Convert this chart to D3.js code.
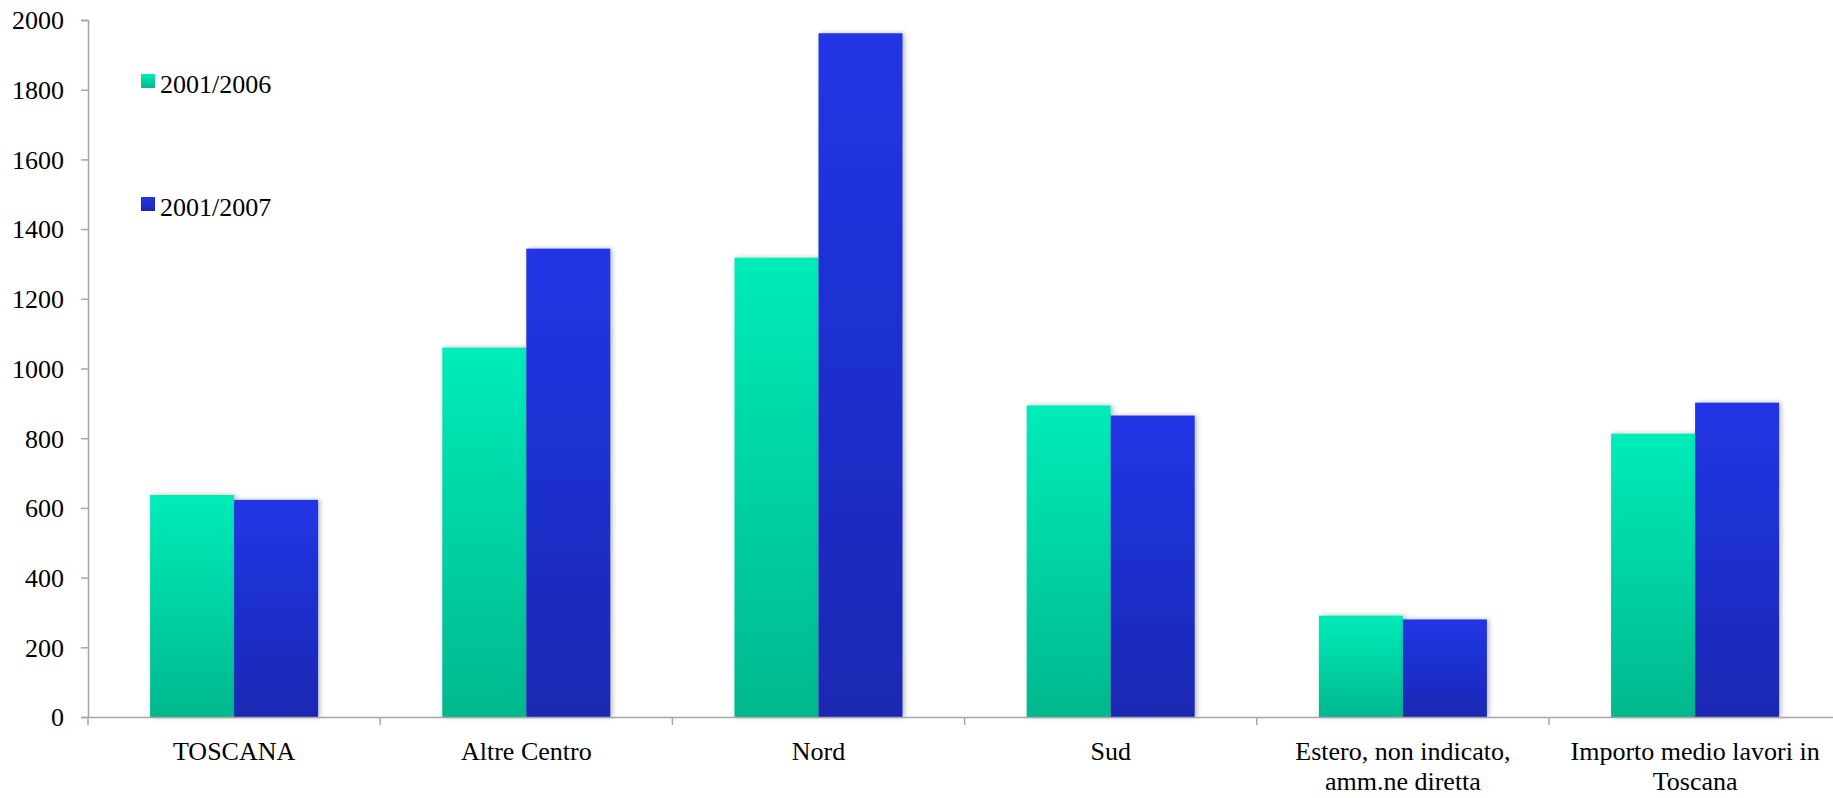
<!DOCTYPE html>
<html>
<head>
<meta charset="utf-8">
<script src="https://cdn.jsdelivr.net/npm/d3@7"></script>
<style>
  html, body { margin: 0; padding: 0; background: #fff; }
  svg { display: block; }
  text { font-family: "Liberation Serif", "Times New Roman", serif; fill: #000; }
</style>
</head>
<body>
<svg id="chart" width="1833" height="798"></svg>
<script>
const categories = ["TOSCANA", "Altre Centro", "Nord", "Sud", "Estero, non indicato, amm.ne diretta", "Importo medio lavori in Toscana"];
const seriesNames = ["2001/2006", "2001/2007"];
const values2006 = [637, 1060, 1318, 894, 291, 813];
const values2007 = [623, 1344, 1962, 865, 280, 902];
const yTicks = [0, 200, 400, 600, 800, 1000, 1200, 1400, 1600, 1800, 2000];

const seriesValues = [values2006, values2007];
const colorsTop = ["#00ecb9", "#2136e6"];
const colorsBottom = ["#00b88e", "#1a28b3"];

const svg = d3.select("#chart");
const margin = { left: 88 };
const y0 = 717, yTop = 20;
const step = 292.2;

const x = d3.scaleBand().domain(categories).range([margin.left, margin.left + step * categories.length]).paddingInner(0).paddingOuter(0);
const x1 = d3.scaleBand().domain(seriesNames).range([0, x.bandwidth()]).paddingInner(0).paddingOuter(0.739);
const y = d3.scaleLinear().domain([0, 2000]).range([y0, yTop]);

const defs = svg.append("defs");
seriesNames.forEach((s, i) => {
  const g = defs.append("linearGradient").attr("id", "grad" + i)
    .attr("x1", 0).attr("y1", 0).attr("x2", 0).attr("y2", 1);
  g.append("stop").attr("offset", "0%").attr("stop-color", colorsTop[i]);
  g.append("stop").attr("offset", "100%").attr("stop-color", colorsBottom[i]);
});
const f = defs.append("filter").attr("id", "shadow").attr("x", "-10%").attr("y", "-5%").attr("width", "130%").attr("height", "115%");
f.append("feDropShadow").attr("dx", 2).attr("dy", 0).attr("stdDeviation", 2.5).attr("flood-color", "#000").attr("flood-opacity", 0.28);

// bars
const groups = svg.append("g").selectAll("g.cat").data(categories).join("g")
  .attr("class", "cat")
  .attr("transform", d => `translate(${x(d)},0)`);
groups.selectAll("rect").data((d, ci) => seriesNames.map((s, si) => ({ s, si, v: seriesValues[si][ci] })))
  .join("rect")
  .attr("x", d => x1(d.s))
  .attr("width", x1.bandwidth())
  .attr("y", d => y(d.v))
  .attr("height", d => y0 - y(d.v))
  .attr("fill", d => `url(#grad${d.si})`)
  .attr("filter", "url(#shadow)");

// y axis
const yAxis = d3.axisLeft(y).tickValues(yTicks).tickSize(7).tickPadding(17).tickFormat(d3.format("d"));
const gy = svg.append("g").attr("transform", `translate(${margin.left},0)`).call(yAxis);
gy.select(".domain").attr("stroke", "#a6a6a6").attr("stroke-width", 1.5);
gy.selectAll(".tick line").attr("stroke", "#a6a6a6").attr("stroke-width", 1.5);
gy.selectAll(".tick text").attr("font-size", 26).attr("font-family", "Liberation Serif").attr("dy", "0.34em");

// x axis
const xAxis = d3.axisBottom(x).tickSize(0).tickPadding(0);
const gx = svg.append("g").attr("transform", `translate(0,${y0})`).call(xAxis);
gx.select(".domain").attr("stroke", "#a6a6a6").attr("stroke-width", 1.5);
gx.selectAll(".tick line").remove();
const boundaries = categories.map(c => x(c)).concat([x.range()[1]]);
gx.selectAll("line.bnd").data(boundaries).join("line").attr("class", "bnd")
  .attr("x1", d => d).attr("x2", d => d).attr("y1", 0).attr("y2", 8)
  .attr("stroke", "#a6a6a6").attr("stroke-width", 1.5);

gx.selectAll(".tick text").attr("font-size", 26).attr("font-family", "Liberation Serif")
  .attr("y", 0).attr("dy", null)
  .each(function(d) {
    const t = d3.select(this);
    const words = d.split(" ");
    t.text(null);
    const maxW = x.bandwidth() - 8;
    let lines = [], line = [];
    const tmp = t.append("tspan");
    words.forEach(w => {
      line.push(w);
      tmp.text(line.join(" "));
      if (tmp.node().getComputedTextLength() > maxW && line.length > 1) {
        line.pop();
        lines.push(line.join(" "));
        line = [w];
      }
    });
    lines.push(line.join(" "));
    tmp.remove();
    lines.forEach((l, i) => {
      t.append("tspan").attr("x", 0).attr("y", 43 + i * 30).text(l);
    });
  });

// legend
const legend = svg.append("g");
const legendTop = [74, 197];
seriesNames.forEach((s, i) => {
  const g = legend.append("g").attr("transform", `translate(141,${legendTop[i]})`);
  g.append("rect").attr("width", 14).attr("height", 14).attr("fill", `url(#grad${i})`);
  g.append("text").attr("x", 19).attr("y", 19).attr("font-size", 26).text(s);
});
</script>
</body>
</html>
